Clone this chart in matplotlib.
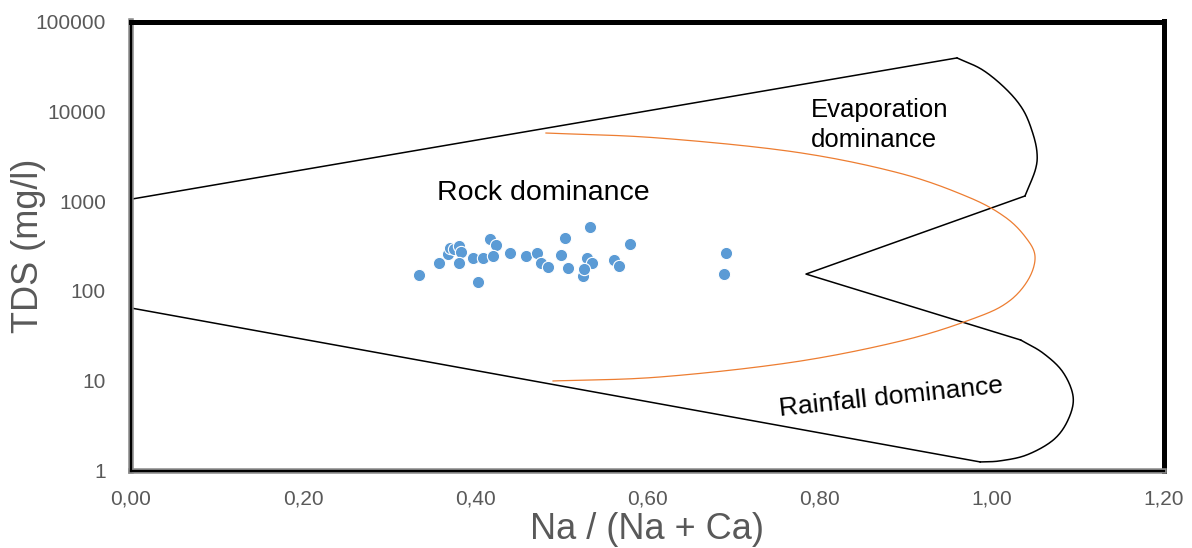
import numpy as np
import matplotlib
matplotlib.use("Agg")
import matplotlib.pyplot as plt
from matplotlib.ticker import FixedLocator, FuncFormatter, NullLocator

plt.rcParams['font.family'] = ['Liberation Sans', 'DejaVu Sans']

# samples: Na/(Na+Ca) and TDS (mg/l)
na_ratio = [0.335, 0.358, 0.368, 0.371, 0.375, 0.381, 0.383, 0.381, 0.398, 0.403,
            0.409, 0.417, 0.424, 0.421, 0.441, 0.459, 0.472, 0.477, 0.485, 0.504,
            0.500, 0.508, 0.534, 0.530, 0.536, 0.525, 0.526, 0.561, 0.567, 0.580,
            0.692, 0.689]
tds = [150, 204, 258, 300, 293, 316, 271, 204, 232, 125,
       232, 378, 325, 245, 264, 245, 264, 204, 184, 388,
       251, 180, 515, 232, 204, 146, 175, 221, 189, 333,
       264, 154]

# Gibbs boundary (black), pieces
upper_x = [0.0, 0.960]
upper_y = [1050, 39300]
evap_x = [0.960, 0.990, 1.018, 1.037, 1.048, 1.053, 1.051, 1.039]
evap_y = [39300, 28800, 17300, 10300, 5730, 3440, 2220, 1140]
notch_x = [1.039, 0.7845, 1.034]
notch_y = [1140, 154, 28.4]
rain_x = [1.034, 1.060, 1.083, 1.095, 1.089, 1.072, 1.041, 1.010, 0.987]
rain_y = [28.4, 20.3, 12.5, 6.58, 3.65, 2.19, 1.49, 1.28, 1.245]
lower_x = [0.987, 0.0]
lower_y = [1.245, 64.5]

# orange curve
orange_x = [0.4823, 0.6125, 0.7717, 0.8926, 0.9728, 1.0158, 1.0404, 1.0507,
            1.0425, 1.0193, 0.9809, 0.8996, 0.7717, 0.6148, 0.4905]
orange_y = [5730, 5050, 3520, 2055, 1112, 665, 388, 239,
            132, 75.2, 49.9, 28.4, 16.2, 11.0, 9.93]

x_ticks = [0.0, 0.2, 0.4, 0.6, 0.8, 1.0, 1.2]
y_ticks = [1, 10, 100, 1000, 10000, 100000]


def smooth(xs, ys, n=20):
    # catmull-rom drawing of a smoothed line, in (x, log y)
    p = np.column_stack([xs, np.log10(ys)])
    p = np.vstack([2 * p[0] - p[1], p, 2 * p[-1] - p[-2]])
    out = []
    t = np.linspace(0, 1, n, endpoint=False)[:, None]
    for i in range(1, len(p) - 2):
        p0, p1, p2, p3 = p[i - 1], p[i], p[i + 1], p[i + 2]
        seg = 0.5 * ((2 * p1) + (-p0 + p2) * t + (2 * p0 - 5 * p1 + 4 * p2 - p3) * t ** 2
                     + (-p0 + 3 * p1 - 3 * p2 + p3) * t ** 3)
        out.append(seg)
    out.append(p[-2][None, :])
    out = np.vstack(out)
    return out[:, 0], 10 ** out[:, 1]


fig = plt.figure(figsize=(11.92, 5.48), dpi=100)
ax = fig.add_axes([131 / 1192, 77.5 / 548, 1032.5 / 1192, 449 / 548])
ax.set_yscale('log')
ax.set_xlim(0, 1.2)
ax.set_ylim(1, 100000)

lw_b = 1.1
ax.plot(upper_x, upper_y, color='black', lw=lw_b)
ax.plot(*smooth(evap_x, evap_y), color='black', lw=lw_b)
ax.plot(notch_x, notch_y, color='black', lw=lw_b)
ax.plot(*smooth(rain_x, rain_y), color='black', lw=lw_b)
ax.plot(lower_x, lower_y, color='black', lw=lw_b)
ax.plot(*smooth(orange_x, orange_y), color='#ED7D31', lw=0.9)

ax.scatter(na_ratio, tds, s=78, color='#5B9BD5', edgecolors='white', linewidths=0.8, zorder=3)

ax.text(0.479, 1230, 'Rock dominance', fontsize=20.5, ha='center', va='center')
ax.text(0.790, 7030, 'Evaporation\ndominance', fontsize=18.5, ha='left', va='center',
        linespacing=1.35)
ax.text(0.883, 6.58, 'Rainfall dominance', fontsize=19, ha='center', va='center',
        rotation=6, rotation_mode='anchor')

ax.xaxis.set_major_locator(FixedLocator(x_ticks))
ax.xaxis.set_major_formatter(FuncFormatter(lambda v, p: f'{v:.2f}'.replace('.', ',')))
ax.yaxis.set_major_locator(FixedLocator(y_ticks))
ax.yaxis.set_major_formatter(FuncFormatter(lambda v, p: f'{int(round(v))}'))
ax.yaxis.set_minor_locator(NullLocator())
ax.tick_params(axis='both', length=0, labelsize=15, labelcolor='#595959')
ax.tick_params(axis='x', pad=14)
ax.tick_params(axis='y', pad=18)

ax.set_xlabel('Na / (Na + Ca)', fontsize=26, color='#595959', labelpad=2)
ax.set_ylabel('TDS (mg/l)', fontsize=26, color='#595959', va='center')
ax.yaxis.set_label_coords(-0.099, 0.5)

for s in ['top', 'right']:
    ax.spines[s].set_color('black')
    ax.spines[s].set_linewidth(3.6)
for s in ['left', 'bottom']:
    ax.spines[s].set_color('#8c8c8c')
    ax.spines[s].set_linewidth(4)
ax.plot([0, 0], [0, 1], transform=ax.transAxes, color='black', lw=1.6, clip_on=False, zorder=5)
ax.plot([0, 1], [0, 0], transform=ax.transAxes, color='black', lw=1.6, clip_on=False, zorder=5)

fig.savefig('out.png', dpi=100)
